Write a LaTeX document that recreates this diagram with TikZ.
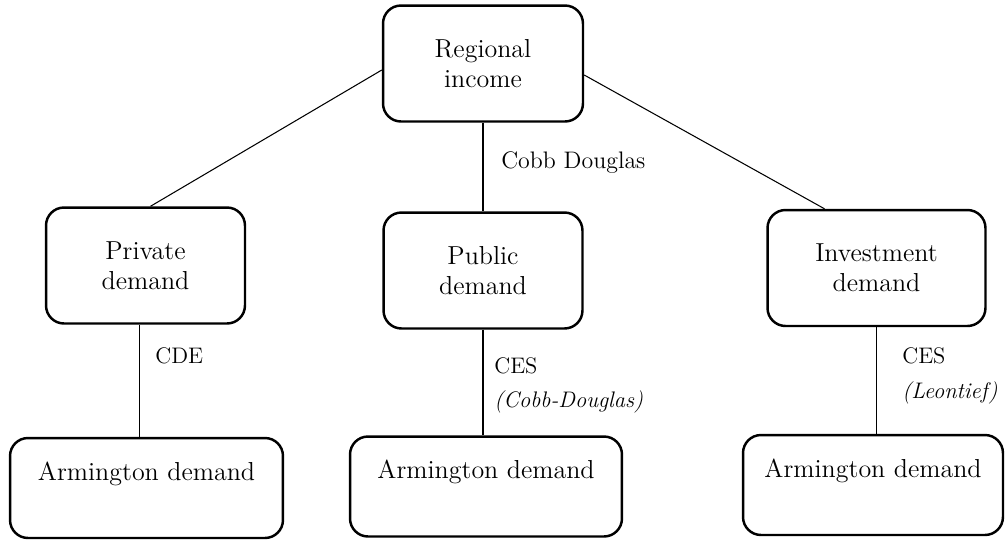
\documentclass[tikz,border=0pt]{standalone}
\usetikzlibrary{positioning}

\begin{document}
\begin{tikzpicture}[
    x=0.02cm, y=-0.02cm,
    dbox/.style={rectangle, draw=black, line width=1.4pt, rounded corners=0.36cm,
                 align=center, font=\fontsize{14.8}{17}\selectfont,
                 minimum height=2.32cm, inner sep=0pt},
    abox/.style={rectangle, draw=black, line width=1.4pt, rounded corners=0.36cm,
                 font=\fontsize{14.8}{17}\selectfont, inner sep=0pt,
                 text height=0.84cm, text depth=1.16cm},
    elabel/.style={anchor=base west, inner sep=0pt, font=\fontsize{12.8}{15}\selectfont},
    link/.style={line width=0.6pt}
  ]
    \useasboundingbox (0,0) rectangle (1005,539);

    % Top node
    \node[dbox, minimum width=4cm] (income) at (483,63.5) {Regional\\income};

    % Demand nodes
    \node[dbox, minimum width=3.98cm] (private) at (145.5,265.5) {Private\\demand};
    \node[dbox, minimum width=3.98cm] (public)  at (483,270.5) {Public\\demand};
    \node[dbox, minimum width=4.36cm] (invest)  at (876.5,268)   {Investment\\demand};

    % Armington nodes
    \foreach \nm/\x/\y/\w in {armL/146.5/488/5.46cm, armM/486/486.5/5.44cm, armR/873/485/5.2cm}{
      \node[abox, minimum width=\w] (\nm) at (\x,\y) {Armington demand};
    }

    % Links
    \draw[link] ([yshift=-0.13cm]income.west) -- ([xshift=0.1cm]private.north);
    \draw[link] ([yshift=-0.23cm]income.east) -- ([xshift=-1.04cm]invest.north);
    \draw[link] (income.south) -- (public.north);
    \draw[link] ([xshift=-0.12cm]private.south) -- ([xshift=-0.12cm]private.south |- armL.north);
    \draw[link] (public.south) -- (public.south |- armM.north);
    \draw[link] (invest.south) -- (invest.south |- armR.north);

    % Nesting labels
    \node[elabel] (lcd)  at (501,168) {\fontsize{13.6}{15}\selectfont Cobb Douglas};
    \node[elabel] (lcde) at (155,363) {CDE};
    \node[elabel] (lces1) at (494,373) {CES};
    \node[elabel] (lcd2)  at (494,407) {\itshape (Cobb-Douglas)};
    \node[elabel] (lces2) at (902,363) {CES};
    \node[elabel] (lleo)  at (902,398) {\itshape (Leontief)};
\end{tikzpicture}
\end{document}
